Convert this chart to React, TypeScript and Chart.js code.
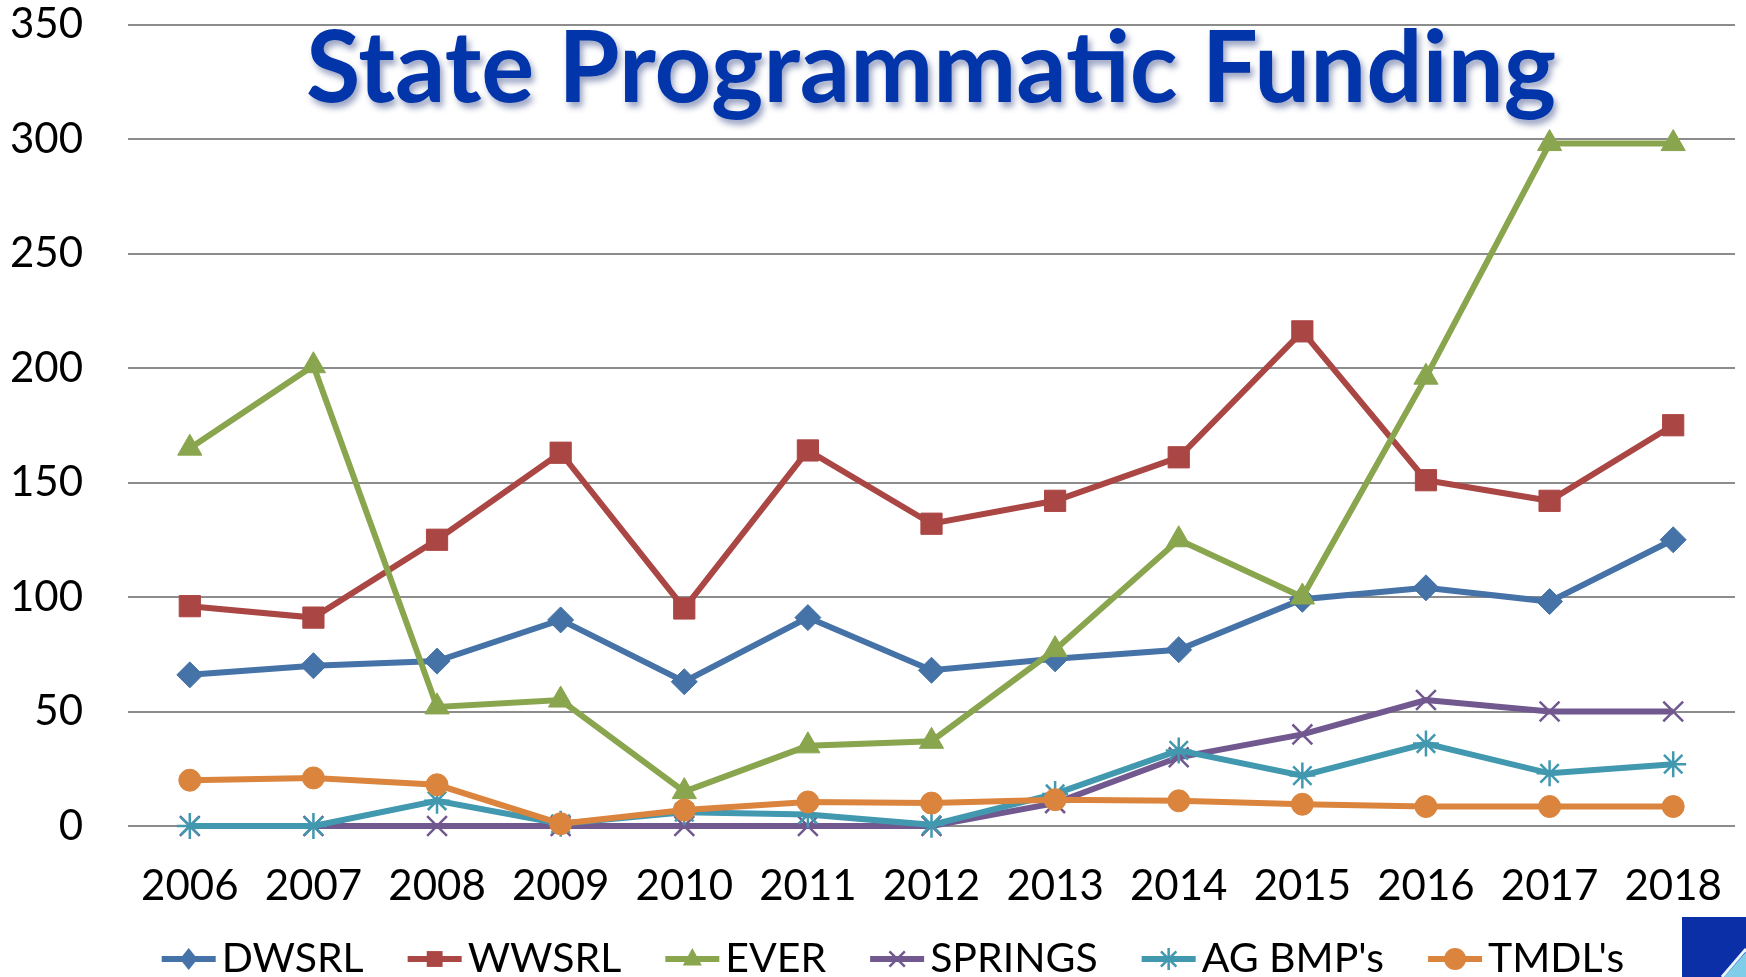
import React, { useEffect, useRef } from "react";
import { Chart, registerables } from "chart.js";

Chart.register(...registerables);

// ---------- data ----------
const years = ["2006", "2007", "2008", "2009", "2010", "2011", "2012", "2013", "2014", "2015", "2016", "2017", "2018"];
const dwsrl = [66, 70, 72, 90, 63, 91, 68, 73, 77, 99, 104, 98, 125];
const wwsrl = [96, 91, 125, 163, 95, 164, 132, 142, 161, 216, 151, 142, 175];
const ever = [165, 201, 52, 55, 15, 35, 37, 77, 125, 100, 196, 298, 298];
const springs = [0, 0, 0, 0, 0, 0, 0, 10, 30, 40, 55, 50, 50];
const agBmps = [0, 0, 11, 1, 6, 5, 0.5, 14, 33, 22, 36, 23, 27];
const tmdls = [20, 21, 18, 1, 7, 10.5, 10, 11.5, 11, 9.5, 8.5, 8.5, 8.5];
const seriesNames = ["DWSRL", "WWSRL", "EVER", "SPRINGS", "AG BMP's", "TMDL's"];
const yTickValues = [0, 50, 100, 150, 200, 250, 300, 350];
const titleText = "State Programmatic Funding";

// ---------- styles ----------
const colors = ["#4572A7", "#AA4643", "#89A54E", "#71588F", "#4198AF", "#DB843D"];
const shapes = ["rectRot", "rect", "triangle", "crossRot", "star", "circle"];
const radii = [13, 15, 14, 14, 13, 11];
const FONT = "Lato";

function drawMarker(ctx: CanvasRenderingContext2D, shape: string, x: number, y: number, r: number, color: string) {
  ctx.save();
  ctx.fillStyle = color;
  ctx.strokeStyle = color;
  ctx.lineWidth = 2.5;
  ctx.beginPath();
  if (shape === "rectRot") {
    ctx.moveTo(x, y - r);
    ctx.lineTo(x + r * 0.8, y);
    ctx.lineTo(x, y + r);
    ctx.lineTo(x - r * 0.8, y);
    ctx.closePath();
    ctx.fill();
  } else if (shape === "rect") {
    const s = r * 0.72;
    ctx.rect(x - s, y - s, 2 * s, 2 * s);
    ctx.fill();
  } else if (shape === "triangle") {
    ctx.moveTo(x, y - r);
    ctx.lineTo(x + r * 0.87, y + r * 0.6);
    ctx.lineTo(x - r * 0.87, y + r * 0.6);
    ctx.closePath();
    ctx.fill();
  } else if (shape === "crossRot") {
    const d = r * 0.7;
    ctx.moveTo(x - d, y - d);
    ctx.lineTo(x + d, y + d);
    ctx.moveTo(x + d, y - d);
    ctx.lineTo(x - d, y + d);
    ctx.stroke();
  } else if (shape === "star") {
    const d = r * 0.7;
    ctx.moveTo(x - d, y - d);
    ctx.lineTo(x + d, y + d);
    ctx.moveTo(x + d, y - d);
    ctx.lineTo(x - d, y + d);
    ctx.moveTo(x, y - r);
    ctx.lineTo(x, y + r);
    ctx.stroke();
  } else {
    ctx.arc(x, y, r, 0, Math.PI * 2);
    ctx.fill();
  }
  ctx.restore();
}

const titlePlugin = {
  id: "slideTitle",
  afterDraw(chart: any) {
    const ctx: CanvasRenderingContext2D = chart.ctx;
    ctx.save();
    ctx.font = `bold 100px ${FONT}`;
    const w = ctx.measureText(titleText).width;
    ctx.translate(931, 102);
    ctx.scale(1250 / w, 1);
    ctx.textAlign = "center";
    ctx.textBaseline = "alphabetic";
    ctx.shadowColor = "rgba(30,50,120,0.45)";
    ctx.shadowBlur = 6;
    ctx.shadowOffsetX = 3;
    ctx.shadowOffsetY = 5;
    ctx.fillStyle = "#0335AA";
    ctx.fillText(titleText, 0, 0);
    ctx.restore();
  },
};

const legendPlugin = {
  id: "lineLegend",
  afterDraw(chart: any) {
    const ctx: CanvasRenderingContext2D = chart.ctx;
    ctx.save();
    ctx.font = `41px ${FONT}`;
    const iconW = 54;
    const gap = 6;
    const spacing = 44;
    const names = chart.data.datasets.map((d: any) => d.label as string);
    const widths = names.map((n: string) => ctx.measureText(n).width);
    const total = widths.reduce((a: number, w: number) => a + iconW + gap + w, 0) + spacing * (names.length - 1);
    let x = 893 - total / 2;
    const y = 959;
    ctx.textBaseline = "middle";
    ctx.textAlign = "left";
    names.forEach((name: string, i: number) => {
      ctx.strokeStyle = colors[i];
      ctx.lineWidth = 6;
      ctx.beginPath();
      ctx.moveTo(x, y);
      ctx.lineTo(x + iconW, y);
      ctx.stroke();
      drawMarker(ctx, shapes[i], x + iconW / 2, y, 11, colors[i]);
      ctx.fillStyle = "#000";
      ctx.fillText(name, x + iconW + gap, y);
      x += iconW + gap + widths[i] + spacing;
    });
    ctx.restore();
  },
};

const logoPlugin = {
  id: "cornerLogo",
  afterDraw(chart: any) {
    const ctx: CanvasRenderingContext2D = chart.ctx;
    ctx.save();
    ctx.fillStyle = "#0B2FA6";
    ctx.fillRect(1682, 917, 64, 60);
    ctx.fillStyle = "#7FCDE8";
    ctx.beginPath();
    ctx.moveTo(1724, 977);
    ctx.lineTo(1746, 952);
    ctx.lineTo(1746, 977);
    ctx.closePath();
    ctx.fill();
    ctx.strokeStyle = "#E8F6FB";
    ctx.lineWidth = 3;
    ctx.beginPath();
    ctx.moveTo(1722, 977);
    ctx.lineTo(1746, 949);
    ctx.stroke();
    ctx.restore();
  },
};

export default function App() {
  const ref = useRef<HTMLCanvasElement | null>(null);

  useEffect(() => {
    if (!ref.current) return;
    const values = [dwsrl, wwsrl, ever, springs, agBmps, tmdls];
    const datasets = values.map((data, i) => ({
      label: seriesNames[i],
      data,
      borderColor: colors[i],
      backgroundColor: colors[i],
      borderWidth: 6,
      pointStyle: shapes[i] as any,
      pointRadius: radii[i],
      pointBorderColor: colors[i],
      pointBackgroundColor: colors[i],
      pointBorderWidth: shapes[i] === "crossRot" || shapes[i] === "star" ? 2.5 : 1,
      tension: 0,
      clip: false as any,
      order: values.length - i,
    }));

    const chart = new Chart(ref.current, {
      type: "line",
      data: { labels: years, datasets },
      options: {
        responsive: false,
        animation: false,
        layout: { padding: { left: 0, right: 11, top: 0, bottom: 0 } },
        plugins: {
          title: { display: false },
          tooltip: { enabled: false },
          legend: { display: false },
        },
        scales: {
          x: {
            type: "category",
            offset: true,
            grid: { display: false, drawTicks: false },
            border: { display: false },
            ticks: { padding: 35, color: "#000", font: { family: FONT, size: 42 }, maxRotation: 0, autoSkip: false },
            afterFit: (s: any) => {
              s.height = 151;
              s.paddingLeft = 0;
              s.paddingRight = 0;
            },
          },
          y: {
            min: 0,
            max: 350,
            grid: { color: "#8c8c8c", lineWidth: 2, drawTicks: false },
            border: { display: false },
            ticks: { padding: 45, color: "#000", font: { family: FONT, size: 42 } },
            afterBuildTicks: (s: any) => {
              s.ticks = yTickValues.map((v) => ({ value: v }));
            },
            afterFit: (s: any) => {
              s.width = 128;
              s.paddingTop = 24.5;
              s.paddingBottom = 20;
              s.paddingRight = 0;
            },
          },
        },
      },
      plugins: [
        {
          id: "fixArea",
          afterLayout(chart: any) {
            // align the plot box with the reference (gridlines from x=128 to x=1735)
            const x = chart.scales.x;
            if (x.right !== 1735) {
              x.right = 1735;
              x.width = 1735 - x.left;
              chart.chartArea.right = 1735;
              chart.chartArea.width = 1735 - chart.chartArea.left;
              chart.scales.y.right = chart.scales.y.right;
              x.configure();
            }
          },
        },
        titlePlugin,
        legendPlugin,
        logoPlugin,
      ],
    });
    return () => chart.destroy();
  }, []);

  return (
    <div style={{ position: "fixed", left: 0, top: 0, width: 1746, height: 977, background: "#fff" }}>
      <canvas ref={ref} width={1746} height={977} style={{ display: "block" }} />
    </div>
  );
}
